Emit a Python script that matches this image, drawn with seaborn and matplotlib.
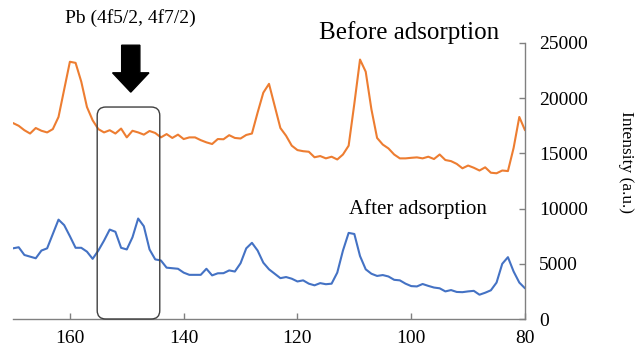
import numpy as np
import pandas as pd
import matplotlib
matplotlib.use("Agg")
import matplotlib.pyplot as plt
from matplotlib.patches import FancyBboxPatch
import seaborn as sns

# ---- data ----
binding_energy = list(range(170, 79, -1))  # eV, 170 .. 80
before = [17750, 17500, 17100, 16800, 17300, 17050, 16900, 17200, 18300, 20800,
          23300, 23200, 21500, 19200, 18000, 17200, 16900, 17100, 16800, 17250,
          16450, 17050, 16900, 16700, 17030, 16850, 16450, 16750, 16400, 16700,
          16300, 16450, 16450, 16200, 16000, 15850, 16300, 16280, 16650, 16400,
          16350, 16670, 16800, 18700, 20500, 21300, 19300, 17300, 16600, 15700,
          15300, 15200, 15150, 14650, 14760, 14550, 14700, 14450, 14900, 15700,
          19500, 23500, 22400, 19000, 16400, 15800, 15450, 14900, 14550, 14550,
          14600, 14640, 14550, 14700, 14490, 14900, 14400, 14300, 14050, 13650,
          13900, 13700, 13450, 13740, 13250, 13200, 13450, 13400, 15500, 18300,
          17100]
after = [6400, 6500, 5800, 5650, 5500, 6200, 6400, 7700, 9000, 8500,
         7500, 6450, 6450, 6100, 5450, 6200, 7100, 8100, 7900, 6450,
         6300, 7400, 9100, 8400, 6300, 5400, 5300, 4650, 4600, 4550,
         4200, 4000, 4000, 4000, 4550, 3950, 4140, 4150, 4400, 4300,
         5050, 6400, 6900, 6200, 5100, 4500, 4100, 3700, 3800, 3650,
         3400, 3500, 3200, 3050, 3250, 3150, 3200, 4200, 6200, 7800,
         7700, 5700, 4500, 4100, 3900, 3980, 3850, 3550, 3500, 3200,
         2980, 2950, 3170, 3000, 2850, 2780, 2500, 2620, 2450, 2430,
         2500, 2550, 2200, 2380, 2600, 3300, 5000, 5600, 4300, 3300,
         2780]
series_names = ["Before adsorption", "After adsorption"]
x_ticks = [160, 140, 120, 100, 80]
y_ticks = [0, 5000, 10000, 15000, 20000, 25000]
pb_region = (155.2, 144.2)      # highlighted Pb 4f region (eV)
pb_region_top = 19200
arrow_x = 149.3
arrow_y = (24800, 20550)

df = pd.DataFrame({
    "Binding energy": binding_energy * 2,
    "Intensity": before + after,
    "Sample": [series_names[0]] * len(before) + [series_names[1]] * len(after),
})

sns.set_theme(style="white")
plt.rcParams["font.family"] = ["Liberation Serif", "DejaVu Serif"]

fig = plt.figure(figsize=(6.35, 3.48), dpi=100)
ax = fig.add_axes([13 / 635, 29 / 348, 512 / 635, 276 / 348])

sns.lineplot(data=df, x="Binding energy", y="Intensity", hue="Sample",
             palette={series_names[0]: "#ED7D31", series_names[1]: "#4472C4"},
             linewidth=1.5, legend=False, ax=ax)

ax.set_xlim(170, 80)
ax.set_ylim(0, 25000)
ax.set_xticks(x_ticks)
ax.set_yticks(y_ticks)
ax.yaxis.tick_right()
ax.set_xlabel("")
ax.set_ylabel("")

for side in ["top", "left"]:
    ax.spines[side].set_visible(False)
for side in ["bottom", "right"]:
    ax.spines[side].set_visible(True)
    ax.spines[side].set_color("#808080")
    ax.spines[side].set_linewidth(1.0)

ax.tick_params(axis="x", direction="in", length=4, width=1, color="#808080",
               labelsize=14, pad=8, labelcolor="black", bottom=True)
ax.tick_params(axis="y", direction="in", length=4, width=1, color="#808080",
               labelsize=14, pad=10, labelcolor="black", right=True, left=False)

# highlighted region (rounded box)
px_per_x = 512 / 90
data_per_px_y = 25000 / 276
box = FancyBboxPatch((pb_region[1], 0), pb_region[0] - pb_region[1], pb_region_top,
                     boxstyle="round,pad=0,rounding_size=1.5",
                     mutation_aspect=data_per_px_y * px_per_x,
                     fc="none", ec="#404040", lw=1.0, clip_on=False, zorder=3)
ax.add_patch(box)

# block arrow
ax.arrow(arrow_x, arrow_y[0], 0, arrow_y[1] - arrow_y[0],
         width=3.2, head_width=6.4, head_length=1750,
         length_includes_head=True, fc="black", ec="black", zorder=4)

# texts
fig.text(130 / 635, 1 - 18 / 348, "Pb (4f5/2, 4f7/2)", ha="center", va="center",
         fontsize=14, color="black")
fig.text(409 / 635, 1 - 33 / 348, series_names[0], ha="center", va="center",
         fontsize=18, color="black")
fig.text(418 / 635, 1 - 209 / 348, series_names[1], ha="center", va="center",
         fontsize=15, color="black")
fig.text(626 / 635, 1 - 162 / 348, "Intensity (a.u.)", ha="center", va="center",
         rotation=270, fontsize=12.5, color="black")

fig.savefig("out.png", dpi=100)
